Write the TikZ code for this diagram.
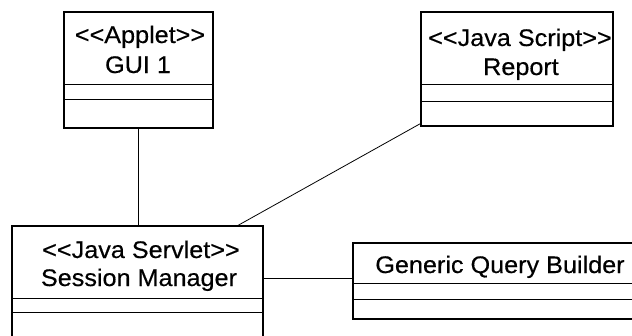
\documentclass[tikz,border=0pt]{standalone}
\usepackage{fontspec}
\newfontfamily\umlfont{Liberation Sans}[FakeStretch=1.05, FakeBold=0.4]
\newcommand{\stype}[1]{<\kern0pt<#1>\kern0pt>}

\tikzset{
  classbox/.style={draw, line width=1.2pt, inner sep=0pt},
  classtext/.style={anchor=base, inner sep=0pt, font=\umlfont\fontsize{24}{29}\selectfont},
  divider/.style={line width=1pt},
  link/.style={line width=0.8pt}
}

\begin{document}
\begin{tikzpicture}[x=1pt,y=-1pt]

\clip (0,0) rectangle (632,335);

% class boxes
\node[classbox, minimum width=149pt, minimum height=116pt] (gui) at (138.5,70) {};
\node[classbox, minimum width=192pt, minimum height=114pt] (report) at (517,69) {};
\node[classbox, minimum width=251pt, minimum height=119pt] (session) at (137.5,285.5) {};
\node[classbox, minimum width=294pt, minimum height=76pt] (gqb) at (500,281) {};

% compartments
\foreach \c/\ya/\yb in {gui/84/99, report/84/101, session/298/312, gqb/283/299}{
  \draw[divider] (\c.west |- 0,\ya) -- (\c.east |- 0,\ya);
  \draw[divider] (\c.west |- 0,\yb) -- (\c.east |- 0,\yb);
}

% names
\node[classtext] (guistype) at (140,43) {\stype{Applet}};
\node[classtext] (guiname) at (138,73) {GUI 1};
\node[classtext] (reportstype) at (520,46) {\stype{Java Script}};
\node[classtext] (reportname) at (521,75) {Report};
\node[classtext] (sessionstype) at (141,258) {\stype{Java Servlet}};
\node[classtext] (sessionname) at (139,286) {Session Manager};
\node[classtext] (gqbname) at (500,273) {Generic Query Builder};

% associations
\coordinate (sq) at (0,278);
\draw[link] (gui.south) -- (gui.south |- session.north);
\draw[link] ([yshift=3pt]report.south west) -- ([xshift=100.5pt]session.north);
\draw[link] (session.east |- sq) -- (gqb.west |- sq);

\end{tikzpicture}
\end{document}
